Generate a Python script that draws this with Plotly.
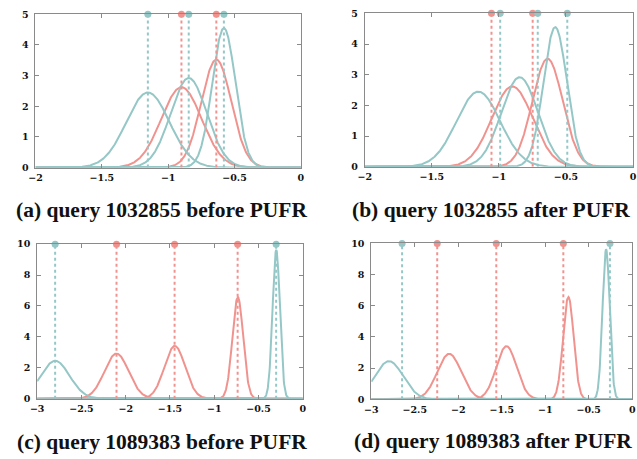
import numpy as np
import plotly.graph_objects as go

TEAL = "#95c7c7"
RED = "#f0938f"
FRAME = "#8a8a8a"

# ---- data ----
# panels (a) and (b): density curves (means, peak heights)
ab_teal_means = [-1.153, -0.845, -0.58]
ab_teal_peaks = [2.45, 2.92, 4.55]
ab_red_means = [-0.90, -0.637]
ab_red_peaks = [2.62, 3.52]
# dotted marker positions
a_teal_marks = [-1.153, -0.845, -0.58]
a_red_marks = [-0.90, -0.637]
b_teal_marks = [-0.99, -0.71, -0.49]
b_red_marks = [-1.055, -0.748]

# panels (c) and (d)
cd_teal_means = [-2.797, -0.30]
cd_teal_peaks = [2.45, 9.62]
cd_red_means = [-2.104, -1.446, -0.734]
cd_red_peaks = [2.92, 3.41, 6.57]
c_teal_marks = [-2.797, -0.301]
c_red_marks = [-2.104, -1.448, -0.736]
d_teal_marks = [-2.646, -0.256]
d_red_marks = [-2.242, -1.563, -0.792]

ab_xticks = [-2, -1.5, -1, -0.5, 0]
ab_yticks = [0, 1, 2, 3, 4, 5]
cd_xticks = [-3, -2.5, -2, -1.5, -1, -0.5, 0]
cd_yticks = [0, 2, 4, 6, 8, 10]

captions = [
    "(a) query 1032855 before PUFR",
    "(b) query 1032855 after PUFR",
    "(c) query 1089383 before PUFR",
    "(d) query 1089383 after PUFR",
]

W, H = 637, 459


def density(mean, peak, xs):
    sigma = 1.0 / (peak * np.sqrt(2 * np.pi))
    return peak * np.exp(-0.5 * ((xs - mean) / sigma) ** 2)


panels = [
    dict(xr=(-2, 0), ytop=5, tm=ab_teal_means, tp=ab_teal_peaks, rm=ab_red_means, rp=ab_red_peaks,
         tmk=a_teal_marks, rmk=a_red_marks, xt=ab_xticks, yt=ab_yticks,
         px=(29, 299), py=(8.5, 165.5)),
    dict(xr=(-2, 0), ytop=5, tm=ab_teal_means, tp=ab_teal_peaks, rm=ab_red_means, rp=ab_red_peaks,
         tmk=b_teal_marks, rmk=b_red_marks, xt=ab_xticks, yt=ab_yticks,
         px=(364, 637.4), py=(7.5, 164.8)),
    dict(xr=(-3, 0), ytop=10, tm=cd_teal_means, tp=cd_teal_peaks, rm=cd_red_means, rp=cd_red_peaks,
         tmk=c_teal_marks, rmk=c_red_marks, xt=cd_xticks, yt=cd_yticks,
         px=(30.7, 301), py=(244, 402.3)),
    dict(xr=(-3, 0), ytop=10, tm=cd_teal_means, tp=cd_teal_peaks, rm=cd_red_means, rp=cd_red_peaks,
         tmk=d_teal_marks, rmk=d_red_marks, xt=cd_xticks, yt=cd_yticks,
         px=(370.7, 636.2), py=(243.3, 403)),
]
cap_pos = [(157.5, 209), (493, 209), (158, 446.5), (494.5, 445.5)]

fig = go.Figure()
layout = {}
for i, p in enumerate(panels):
    k = i + 1
    xa = "x" if k == 1 else f"x{k}"
    ya = "y" if k == 1 else f"y{k}"
    xs = np.linspace(p["xr"][0], p["xr"][1], 800)

    for m, pk in zip(p["rm"], p["rp"]):
        fig.add_trace(go.Scatter(x=xs, y=density(m, pk, xs), mode="lines",
                                 line=dict(color=RED, width=2), xaxis=xa, yaxis=ya,
                                 showlegend=False, hoverinfo="skip"))
    for m, pk in zip(p["tm"], p["tp"]):
        fig.add_trace(go.Scatter(x=xs, y=density(m, pk, xs), mode="lines",
                                 line=dict(color=TEAL, width=2), xaxis=xa, yaxis=ya,
                                 showlegend=False, hoverinfo="skip"))
    for marks, col in ((p["rmk"], RED), (p["tmk"], TEAL)):
        lx, ly = [], []
        for v in marks:
            lx += [v, v, None]
            ly += [0, p["ytop"], None]
        fig.add_trace(go.Scatter(x=lx, y=ly, mode="lines",
                                 line=dict(color=col, width=2, dash="dot"),
                                 xaxis=xa, yaxis=ya, showlegend=False, hoverinfo="skip"))
        fig.add_trace(go.Scatter(x=marks, y=[p["ytop"]] * len(marks), mode="markers",
                                 marker=dict(color=col, size=7), cliponaxis=False,
                                 xaxis=xa, yaxis=ya, showlegend=False, hoverinfo="skip"))

    axcommon = dict(showline=True, linecolor=FRAME, linewidth=1, mirror="ticks",
                    ticks="inside", ticklen=4, tickcolor=FRAME, tickwidth=1,
                    showgrid=False, zeroline=False,
                    tickfont=dict(family="DejaVu Serif", size=9.5, color="#111", weight="bold"))
    layout["xaxis" if k == 1 else f"xaxis{k}"] = dict(
        axcommon, domain=[p["px"][0] / W, min(p["px"][1] / W, 1.0)],
        range=list(p["xr"]), tickvals=p["xt"], anchor=ya, ticklabelstandoff=1)
    layout["yaxis" if k == 1 else f"yaxis{k}"] = dict(
        axcommon, domain=[1 - p["py"][1] / H, 1 - p["py"][0] / H],
        range=[0, p["ytop"]], tickvals=p["yt"], anchor=xa, ticklabelstandoff=4)

annotations = []
for (cx, cy), txt in zip(cap_pos, captions):
    annotations.append(dict(x=cx / W, y=1 - cy / H, xref="paper", yref="paper",
                            text=f"<b>{txt}</b>", showarrow=False,
                            xanchor="center", yanchor="middle",
                            font=dict(family="Liberation Serif", size=21.5, color="#111")))

fig.update_layout(width=W, height=H, margin=dict(l=0, r=0, t=0, b=0),
                  paper_bgcolor="white", plot_bgcolor="white",
                  annotations=annotations, **layout)
fig.write_html("out.html", config={"displayModeBar": False},
               post_script="document.body.style.margin='0';document.body.style.overflow='hidden';")
